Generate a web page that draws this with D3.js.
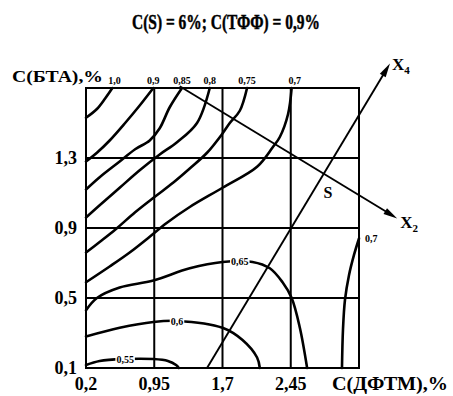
<!DOCTYPE html>
<html><head><meta charset="utf-8">
<script src="https://cdn.jsdelivr.net/npm/d3@7"></script>
<style>body{margin:0;background:#fff}</style>
</head><body>
<svg id="c" width="453" height="396"></svg>
<script>
// ---------- data ----------
const titleText = "C(S) = 6%; C(ТФФ) = 0,9%";
const xAxisName = "C(ДФТМ),%";
const yAxisName = "C(БТА),%";
const xTicks = [0.2, 0.95, 1.7, 2.45];
const yTicks = [0.1, 0.5, 0.9, 1.3];
const xGrid = [0.95, 1.7, 2.45];
const yGrid = [0.5, 0.9, 1.3];

// contour lines (x = C(ДФТМ), y = C(БТА))
const c100 = [[0.49,1.70],[0.41,1.64],[0.32,1.58],[0.20,1.53]];
const c090 = [[0.94,1.70],[0.79,1.60],[0.63,1.50],[0.46,1.40],[0.32,1.33],[0.20,1.28]];
const c085 = [[1.255,1.70],[1.12,1.59],[1.01,1.47],[0.90,1.40],[0.74,1.35],[0.57,1.28],[0.35,1.19],[0.20,1.12]];
const c080 = [[1.56,1.70],[1.42,1.50],[1.20,1.39],[1.01,1.32],[0.79,1.23],[0.57,1.13],[0.35,1.03],[0.20,0.96]];
const c075 = [[1.97,1.70],[1.89,1.57],[1.78,1.50],[1.70,1.44],[1.53,1.33],[1.34,1.24],[1.16,1.16],[0.96,1.08],[0.74,0.99],[0.52,0.89],[0.35,0.82],[0.20,0.76]];
const c070 = [[2.46,1.70],[2.42,1.55],[2.33,1.42],[2.25,1.36],[2.08,1.25],[1.70,1.13],[1.34,1.02],[1.09,0.93],[0.90,0.85],[0.68,0.76],[0.46,0.68],[0.20,0.59]];
const c065 = [[0.20,0.43],[0.32,0.50],[0.57,0.56],[0.94,0.60],[1.34,0.67],[1.70,0.706],[2.03,0.706],[2.22,0.67],[2.36,0.59],[2.46,0.50],[2.55,0.33],[2.63,0.10]];
const c060 = [[0.20,0.28],[0.57,0.33],[0.94,0.363],[1.20,0.369],[1.70,0.33],[1.92,0.26],[2.08,0.16],[2.11,0.10]];
const c055 = [[0.20,0.117],[0.35,0.14],[0.61,0.151],[0.94,0.151],[1.10,0.14],[1.19,0.117],[1.22,0.10]];
const c070r = [[3.20,0.84],[3.145,0.746],[3.09,0.63],[3.046,0.49],[3.024,0.32],[3.013,0.10]];

const contourLines = [c100, c090, c085, c080, c075, c070, c065, c060, c055, c070r];
const contourLevels = ["1,0","0,9","0,85","0,8","0,75","0,7","0,65","0,6","0,55","0,7"];
const labelKind = ["top","top","top","top","top","top","inline","inline","inline","right"];
const inlineLabelAt = {6:[1.89,0.706], 7:[1.20,0.366], 8:[0.63,0.148]};

// factor axes
const axisX4 = [[1.53,0.10],[3.54,1.84]];
const axisX2 = [[1.23,1.71],[3.62,0.955]];
const sPoint = [2.86,1.10];

// ---------- drawing ----------
const svg = d3.select("#c");
const serif = "'Liberation Serif','Times New Roman',serif";
const x = d3.scaleLinear().domain([0.2,3.2]).range([86,359]);
const y = d3.scaleLinear().domain([0.1,1.7]).range([368,88]);
const fmt = d => String(d).replace(".", ",");

svg.append("text").attr("x",226).attr("y",29).attr("text-anchor","middle")
  .attr("font-family",serif).attr("font-weight","bold").attr("font-size",22)
  .attr("stroke","#000").attr("stroke-width",0.5)
  .attr("textLength",188).attr("lengthAdjust","spacingAndGlyphs").text(titleText);

// grid
const g = svg.append("g").attr("stroke","#000").attr("stroke-width",2);
g.selectAll(".vx").data(xGrid).join("line")
  .attr("x1",d=>x(d)).attr("x2",d=>x(d)).attr("y1",y(0.1)).attr("y2",y(1.7));
g.selectAll(".hy").data(yGrid).join("line")
  .attr("y1",d=>y(d)).attr("y2",d=>y(d)).attr("x1",x(0.2)).attr("x2",x(3.2));
g.append("rect").attr("x",x(0.2)).attr("y",y(1.7)).attr("width",x(3.2)-x(0.2))
  .attr("height",y(0.1)-y(1.7)).attr("fill","none");

// contours
const line = d3.line().x(d=>x(d[0])).y(d=>y(d[1])).curve(d3.curveCatmullRom.alpha(0.5));
const cg = svg.append("g");
cg.selectAll("path").data(contourLines).join("path")
  .attr("d", line).attr("fill","none").attr("stroke","#000")
  .attr("stroke-width",2.6).attr("stroke-linecap","round");

// contour labels
const lg = svg.append("g").attr("font-family",serif).attr("font-weight","bold").attr("font-size",10);
contourLines.forEach((pts,i)=>{
  const k = labelKind[i];
  if (k==="top") {
    lg.append("text").attr("x",x(pts[0][0])+(i===0?2:(i===5?3:0))).attr("y",y(1.7)-4)
      .attr("text-anchor","middle").text(contourLevels[i]);
  } else if (k==="right") {
    lg.append("text").attr("x",x(pts[0][0])+6).attr("y",y(pts[0][1])+3)
      .attr("text-anchor","start").text(contourLevels[i]);
  } else {
    const p = inlineLabelAt[i];
    const t = lg.append("text").attr("x",x(p[0])).attr("y",y(p[1])+3.5)
      .attr("text-anchor","middle").text(contourLevels[i]);
    const bb = t.node().getBBox();
    lg.insert("rect","text").attr("x",bb.x-1).attr("y",bb.y+1).attr("width",bb.width+2)
      .attr("height",bb.height-2).attr("fill","#fff");
  }
});

// tick labels
const tg = svg.append("g").attr("font-family",serif).attr("font-weight","bold").attr("font-size",18);
tg.selectAll(".xt").data(xTicks).join("text").attr("x",d=>x(d)).attr("y",390)
  .attr("text-anchor","middle").text(fmt);
tg.selectAll(".yt").data(yTicks).join("text").attr("x",x(0.2)-9).attr("y",d=>y(d)+6)
  .attr("text-anchor","end").text(fmt);
tg.append("text").attr("x",x(3.2)-27).attr("y",390).attr("textLength",116)
  .attr("lengthAdjust","spacingAndGlyphs").text(xAxisName);
tg.append("text").attr("x",12).attr("y",y(1.7)-6).attr("font-size",17).attr("textLength",91)
  .attr("lengthAdjust","spacingAndGlyphs").text(yAxisName);

// factor axes with arrows
function arrow(a) {
  const x1=x(a[0][0]), y1=y(a[0][1]), x2=x(a[1][0]), y2=y(a[1][1]);
  const ang = Math.atan2(y2-y1, x2-x1);
  svg.append("line").attr("x1",x1).attr("y1",y1).attr("x2",x2-Math.cos(ang)*6).attr("y2",y2-Math.sin(ang)*6)
    .attr("stroke","#000").attr("stroke-width",1.9);
  const L=14, W=3.4;
  const bx = x2-Math.cos(ang)*L, by = y2-Math.sin(ang)*L;
  const px = -Math.sin(ang)*W, py = Math.cos(ang)*W;
  svg.append("path").attr("d",`M${x2},${y2}L${bx+px},${by+py}L${bx-px},${by-py}Z`).attr("fill","#000");
}
arrow(axisX4);
arrow(axisX2);

const ag = svg.append("g").attr("font-family",serif).attr("font-weight","bold");
const t4 = ag.append("text").attr("x",x(axisX4[1][0])+2).attr("y",y(axisX4[1][1])+6).attr("font-size",17);
t4.append("tspan").text("X");
t4.append("tspan").attr("font-size",11).attr("dy",4).text("4");
const t2 = ag.append("text").attr("x",x(axisX2[1][0])+3).attr("y",y(axisX2[1][1])+10).attr("font-size",17);
t2.append("tspan").text("X");
t2.append("tspan").attr("font-size",11).attr("dy",4).text("2");
ag.append("text").attr("x",x(sPoint[0])).attr("y",y(sPoint[1])+5).attr("text-anchor","middle")
  .attr("font-size",16).text("S");
</script>
</body></html>
